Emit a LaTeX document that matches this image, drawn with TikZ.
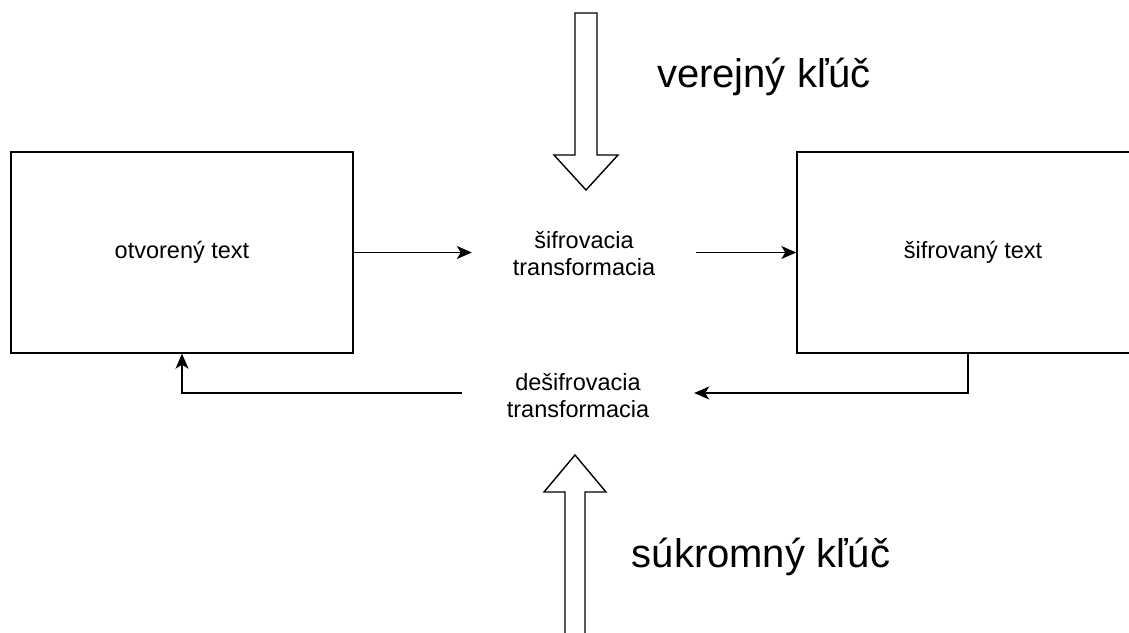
\documentclass[tikz,border=0pt]{standalone}
\usepackage{fontspec}
\setmainfont{Liberation Sans}
\usetikzlibrary{arrows.meta}

\begin{document}
\begin{tikzpicture}[x=1pt, y=-1pt,
  box/.style={draw, line width=1.4pt, minimum height=201pt, inner sep=0pt,
    font=\fontsize{23.5}{27}\selectfont},
  xform/.style={align=center, inner sep=0pt, font=\fontsize{23.5}{27}\selectfont},
  keylabel/.style={anchor=base, font=\fontsize{40}{48}\selectfont},
  link/.style={line width=1.4pt, -{Stealth[length=15pt, width=13pt, inset=4pt]}},
  fatarrow/.style={draw, line width=1.4pt, fill=white, line join=miter}]
\useasboundingbox (0,0) rectangle (1129,632);
\node [box, minimum width=342pt] (otv) at (182,252.5) {otvorený text};
\node [box, minimum width=352pt] (sif) at (973,252.5) {šifrovaný text};
\node [xform, minimum width=224pt] (enc) at (584,253.5) {šifrovacia\\transformacia};
\node [xform, minimum width=232pt] (dec) at (578,396) {dešifrovacia\\transformacia};
\node [keylabel] (pub) at (764,87) {verejný kľúč};
\node [keylabel] (priv) at (761,567) {súkromný kľúč};
\draw [fatarrow] (575,13) -- (597,13) -- (597,155) -- (618,155) -- (586,190)
  -- (554,155) -- (575,155) -- cycle;
\draw [fatarrow] (565,645) -- (565,492) -- (544,492) -- (575,455) -- (606,492)
  -- (585,492) -- (585,645);
\draw [link] (otv.east) -- (otv.east -| enc.west);
\draw [link] (enc.east |- sif.west) -- (sif.west);
\draw [link] ([xshift=-5pt]sif.south) |- ([yshift=3pt]dec.east);
\draw [link] ([yshift=3pt]dec.west) -| (otv.south);
\end{tikzpicture}
\end{document}
